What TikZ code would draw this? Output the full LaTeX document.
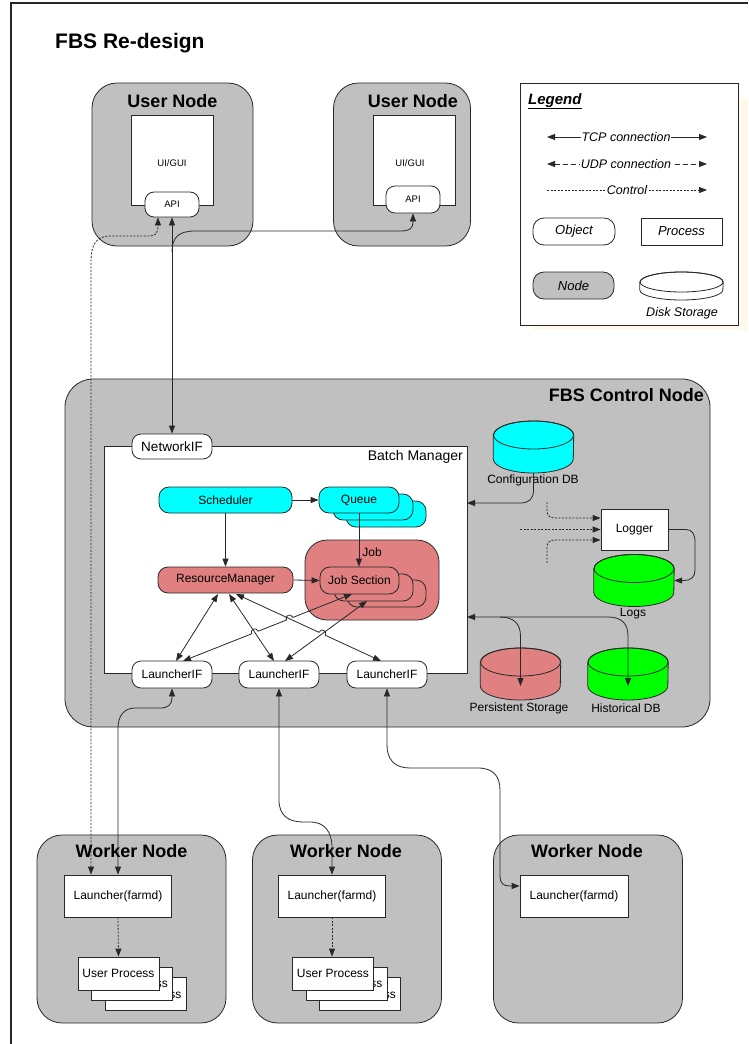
\documentclass[tikz,border=0pt]{standalone}
\usepackage{fontspec}
\setmainfont{Liberation Sans}
\usetikzlibrary{arrows.meta,calc}
\newcommand{\fsz}[1]{\fontsize{#1}{#1}\selectfont}
\definecolor{ndgray}{RGB}{192,192,192}
\definecolor{cyanf}{RGB}{0,255,255}
\definecolor{salm}{RGB}{224,128,128}
\definecolor{grn}{RGB}{0,255,0}
\definecolor{shad}{RGB}{255,248,236}
\definecolor{lnc}{RGB}{40,40,40}
% name, x, y, fill, half width, half body, ry
\newcommand{\dbcyl}[7]{%
  \node[inner sep=0pt, minimum width={2*#5}, minimum height={2*(#6+#7)}] (#1) at (#2,#3) {};
  \filldraw[fill=#4, draw=lnc, line width=0.8pt]
    ([yshift=#6pt]#1.west) -- ([yshift=-#6pt]#1.west)
    arc[start angle=180, end angle=360, x radius=#5pt, y radius=#7pt]
    -- ([yshift=#6pt]#1.east)
    arc[start angle=0, end angle=180, x radius=#5pt, y radius=#7pt] -- cycle;
  \draw[draw=lnc, line width=0.8pt] ([yshift=#6pt]#1.center) ellipse[x radius=#5pt, y radius=#7pt];
}
\newcommand{\hopat}[4]{%
  \coordinate (#1) at ($(#2)!#4!(#3)$);
  \coordinate (#1a) at ($(#1)!3.5pt!(#2)$);
  \coordinate (#1b) at ($(#1)!3.5pt!(#3)$);
}
\begin{document}
\begin{tikzpicture}[x=1pt, y=-1pt,
  >={Triangle[length=8pt,width=6pt]},
  gbox/.style={draw=lnc, fill=ndgray, line width=0.8pt, inner sep=0pt},
  wbox/.style={draw=lnc, fill=white, line width=0.8pt, inner sep=0pt, font=\fsz{12}},
  objn/.style={draw=lnc, fill=white, line width=0.8pt, rounded corners=9pt, inner sep=0pt, minimum width=80pt, minimum height=26pt, font=\fsz{12}},
  pill/.style={draw=lnc, line width=0.8pt, rounded corners=10pt, inner sep=0pt, minimum height=26pt, font=\fsz{12}},
  txt/.style={inner sep=0pt, font=\fsz{12}},
  ttl/.style={inner sep=0pt, font=\fsz{18}\bfseries},
  tcp/.style={draw=lnc, line width=0.8pt},
  udp/.style={tcp, dash pattern=on 5pt off 3pt},
  ctl/.style={tcp, dash pattern=on 2pt off 1.5pt},
  legtxt/.style={fill=white, inner sep=1pt, font=\fsz{12.5}\itshape}
]
\fill[white] (0,0) rectangle (748,1044);
\useasboundingbox (0,0) rectangle (748,1044);

% frame
\coordinate (fTL) at (11,3);
\coordinate (fTR) at (748,3);
\coordinate (fBL) at (11,1044);
\draw[lnc, line width=1.2pt] (fTR) -- (fTL) -- (fBL);

% title
\node[anchor=base west, inner sep=0pt, font=\fsz{21}\bfseries] (title) at (55,48) {FBS Re-design};

% ---------- legend ----------
\node[fill=shad, inner sep=0pt, minimum width=215pt, minimum height=232pt] (lshadow) at (640.5,214) {};
\node[wbox, minimum width=218pt, minimum height=242pt] (legend) at (629,204) {};
\node[anchor=base west, inner sep=0pt, font=\fsz{15}\bfseries\itshape] (legt) at (528,104) {\underline{Legend}};
\coordinate (tcpL) at (547,137);
\coordinate (tcpR) at (707,137);
\draw[tcp,<->] (tcpL) -- (tcpR);
\node[legtxt] (tcpT) at (626,137) {TCP connection};
\coordinate (udpL) at (547,164);
\coordinate (udpR) at (707,164);
\draw[udp,<->] (udpL) -- (udpR);
\node[legtxt] (udpT) at (626,164) {UDP connection};
\coordinate (ctlL) at (547,190);
\coordinate (ctlR) at (707,190);
\draw[ctl,->] (ctlL) -- (ctlR);
\node[legtxt] (ctlT) at (627,190) {Control};
\node[objn, minimum width=82pt, minimum height=27pt, rounded corners=11pt, font=\fsz{13}\itshape] (lobj) at (574,231.5) {Object};
\node[wbox, minimum width=81pt, minimum height=27pt, font=\fsz{13}\itshape] (lproc) at (681.5,231.5) {Process};
\node[gbox, rounded corners=11pt, minimum width=81pt, minimum height=27pt, font=\fsz{13}\itshape] (lnode) at (573.5,285.5) {Node};
\dbcyl{ldisk}{681.5}{286}{white}{41.5}{4}{10}
\node[inner sep=0pt, font=\fsz{12.5}\itshape] (ldiskl) at (682,313) {Disk Storage};

% ---------- user nodes ----------
\node[gbox, rounded corners=25pt, minimum width=161pt, minimum height=163pt] (un1) at (172.5,164.5) {};
\node[ttl] (un1l) at (172.5,101) {User Node};
\node[wbox, minimum width=82pt, minimum height=90pt] (ui1) at (172,160) {};
\node[txt, font=\fsz{9.5}] (ui1l) at (172,163) {UI/GUI};
\node[objn, minimum width=54pt, minimum height=25pt, font=\fsz{9.5}] (api1) at (172,204.5) {API};

\node[gbox, rounded corners=25pt, minimum width=137pt, minimum height=163pt] (un2) at (402,164.5) {};
\node[ttl] (un2l) at (413,101) {User Node};
\node[wbox, minimum width=82pt, minimum height=90pt] (ui2) at (414,160) {};
\node[txt, font=\fsz{9.5}] (ui2l) at (410,163) {UI/GUI};
\node[objn, minimum width=54pt, minimum height=27pt, font=\fsz{9.5}] (api2) at (413,199.5) {API};

% ---------- control node ----------
\node[gbox, rounded corners=28pt, minimum width=645pt, minimum height=348pt] (cn) at (387.5,553) {};
\node[ttl, anchor=east] (cnl) at (704,395) {FBS Control Node};
\node[wbox, minimum width=363pt, minimum height=227pt] (bm) at (285.5,559.5) {};
\node[txt, anchor=east, font=\fsz{14}] (bml) at (463,457) {Batch Manager};

\node[pill, fill=cyanf, minimum width=133pt] (sch) at (225.5,500) {Scheduler};
\node[pill, fill=cyanf, minimum width=80pt] (q3) at (386,514) {};
\node[pill, fill=cyanf, minimum width=80pt] (q2) at (373,507) {};
\node[pill, fill=cyanf, minimum width=80pt] (q) at (359,500) {Queue};

\node[draw=lnc, fill=salm, line width=0.8pt, rounded corners=22pt, minimum width=134pt, minimum height=80pt] (job) at (372,580) {};
\node[txt] (jobl) at (372,552) {Job};
\node[pill, fill=salm, minimum width=79pt, minimum height=27pt] (js3) at (386.5,593.5) {};
\node[pill, fill=salm, minimum width=79pt, minimum height=27pt] (js2) at (373.5,587.5) {};
\node[pill, fill=salm, minimum width=79pt, minimum height=27pt] (js) at (359.5,580.5) {Job Section};
\node[pill, fill=salm, minimum width=135pt] (rm) at (225.5,580) {ResourceManager};

\node[objn, minimum width=80pt, minimum height=25pt, font=\fsz{13.5}] (nif) at (172,446.5) {NetworkIF};
\node[objn, minimum height=27pt] (lif1) at (172,674.5) {LauncherIF};
\node[objn, minimum height=27pt] (lif2) at (279,674.5) {LauncherIF};
\node[objn, minimum height=27pt] (lif3) at (387,674.5) {LauncherIF};

\dbcyl{cfg}{533.5}{447}{cyanf}{40}{12}{14}
\node[txt] (cfgl) at (533,480) {Configuration DB};
\dbcyl{logs}{634}{580.5}{grn}{40}{12}{14}
\node[txt] (logsl) at (633,614) {Logs};
\dbcyl{ps}{520.5}{674}{salm}{40}{12}{14}
\node[txt] (psl) at (519,708) {Persistent Storage};
\dbcyl{hd}{628}{674}{grn}{40}{12}{14}
\node[txt] (hdl) at (626,708) {Historical DB};
\node[wbox, minimum width=67pt, minimum height=41pt] (log) at (634.5,529.5) {Logger};

% ---------- worker nodes ----------
\node[gbox, rounded corners=25pt, minimum width=189pt, minimum height=188pt] (wn1) at (131.5,929) {};
\node[ttl] (wn1l) at (131.5,851) {Worker Node};
\node[wbox, minimum width=107pt, minimum height=42pt] (wl1) at (118,896) {Launcher(farmd)};
\node[wbox, minimum width=81pt, minimum height=33pt] (up1c) at (145.5,994) {User Process};
\node[wbox, minimum width=81pt, minimum height=33pt] (up1b) at (132,983.5) {User Process};
\node[wbox, minimum width=81pt, minimum height=33pt] (up1) at (118.5,973.5) {User Process};

\node[gbox, rounded corners=25pt, minimum width=189pt, minimum height=188pt] (wn2) at (347,929) {};
\node[ttl] (wn2l) at (346,851) {Worker Node};
\node[wbox, minimum width=107pt, minimum height=42pt] (wl2) at (332,896) {Launcher(farmd)};
\node[wbox, minimum width=81pt, minimum height=33pt] (up2c) at (360,994) {User Process};
\node[wbox, minimum width=81pt, minimum height=33pt] (up2b) at (346.5,983.5) {User Process};
\node[wbox, minimum width=81pt, minimum height=33pt] (up2) at (333,973.5) {User Process};

\node[gbox, rounded corners=25pt, minimum width=189pt, minimum height=188pt] (wn3) at (588,929) {};
\node[ttl] (wn3l) at (587,851) {Worker Node};
\node[wbox, minimum width=108pt, minimum height=42pt] (wl3) at (574,896) {Launcher(farmd)};

% ---------- connectors ----------
% control line API1 <-> launcher 1
\draw[ctl,<->] ([xshift=-27pt]wl1.north) -- (91,262) .. controls (91,245) and (96,236) .. (110,236)
  -- (150,236) .. controls (156,236) and (158,232) .. (158,226) -- ([xshift=-14pt]api1.south);
% API1 <-> NetworkIF
\draw[tcp,<->] (api1.south) -- (nif.north);
\coordinate (brA) at (172,252);
\draw[tcp,->] (brA) .. controls (172,238) and (178,231) .. (195,231) -- (400,231)
  .. controls (410,231) and (413,228) .. (413,222) -- (api2.south);

\draw[tcp,->] (sch.east) -- (q.west);
\draw[tcp,->] (sch.south) -- (rm.north);
\draw[tcp,->] (q.south) -- ([xshift=-0.5pt]js.north);
\draw[tcp,->] (rm.east) -- (js.west);

% crossing connectors
\coordinate (rmA) at (218,594);
\coordinate (rmB) at (229,594);
\coordinate (rmC) at (236,594);
\coordinate (l1A) at (176,661);
\coordinate (l1D) at (183,661);
\coordinate (l2B) at (274,661);
\coordinate (l2E) at (285,661);
\coordinate (l3C) at (381,661);
\coordinate (jsD) at (352,594);
\coordinate (jsE) at (367,601);
\hopat{hDB}{l1D}{jsD}{0.425}
\hopat{hDC}{l1D}{jsD}{0.631}
\hopat{hCE}{rmC}{l3C}{0.594}
\draw[tcp,<->] (rmA) -- (l1A);
\draw[tcp,<->] (rmB) -- (l2B);
\draw[tcp,<->] (rmC) -- (hCEa)
  .. controls ($(hCEa)!5pt!90:(hCEb)$) and ($(hCEb)!5pt!-90:(hCEa)$) .. (hCEb) -- (l3C);
\draw[tcp,<->] (l1D) -- (hDBa)
  .. controls ($(hDBa)!5pt!90:(hDBb)$) and ($(hDBb)!5pt!-90:(hDBa)$) .. (hDBb) -- (hDCa)
  .. controls ($(hDCa)!5pt!90:(hDCb)$) and ($(hDCb)!5pt!-90:(hDCa)$) .. (hDCb) -- (jsD);
\draw[tcp,<->] (jsE) -- (l2E);

% config DB -> batch manager
\coordinate (bmC) at (467,503);
\draw[tcp,->] (cfg.south) -- (533.5,490) .. controls (533.5,499) and (529,503) .. (520,503) -- (bmC);
% logger inputs
\coordinate (lgA) at (547,502);
\coordinate (lgB) at (520,529.5);
\coordinate (lgC) at (547,563);
\draw[ctl,->] (lgA) -- (547,511) .. controls (547,516) and (550,518) .. (556,518) -- ([yshift=11.5pt]log.west);
\draw[ctl,->] (lgB) -- (log.west);
\draw[ctl,->] (lgC) -- (547,547) .. controls (547,542) and (550,540) .. (556,540) -- ([yshift=-10.5pt]log.west);
% logger -> logs
\draw[tcp,->] (log.east) -- (686,529.5) .. controls (692,529.5) and (695,534) .. (695,542)
  -- (695,570) .. controls (695,577) and (691,580.5) .. (684,580.5) -- (logs.east);
% batch manager <-> storage
\coordinate (bmS) at (467,617);
\draw[tcp,<->] (bmS) -- (500,617) .. controls (514,617) and (520.5,624) .. (520.5,636) -- ([yshift=-12pt]ps.center);
\draw[tcp,->] (500,617) -- (608,617) .. controls (622,617) and (628,624) .. (628,636) -- ([yshift=-12pt]hd.center);

% launcher IF -> worker nodes
\draw[tcp,<->] (lif1.south) -- (172,697) .. controls (172,705) and (168,708) .. (160,708) -- (135,708)
  .. controls (124,708) and (118,716) .. (118,728) -- (wl1.north);
\draw[tcp,<->] (lif2.south) -- (279,800) .. controls (279,815) and (288,822) .. (303,822) -- (310,822)
  .. controls (325,822) and (332,832) .. (332,848) -- (wl2.north);
\draw[tcp,<->] (lif3.south) -- (387,745) .. controls (387,760) and (395,768) .. (410,768) -- (478,768)
  .. controls (493,768) and (500,776) .. (500,790) -- (500,876) .. controls (500,883) and (503,886) .. (510,886)
  -- ([yshift=10pt]wl3.west);
% launcher -> user process
\draw[ctl,->] (wl1.south) -- (up1.north);
\draw[ctl,->] (wl2.south) -- ([xshift=-1pt]up2.north);
\end{tikzpicture}
\end{document}
